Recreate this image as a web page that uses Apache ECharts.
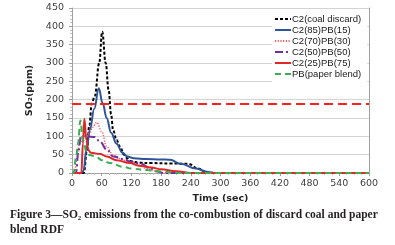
<!DOCTYPE html>
<html><head><meta charset="utf-8">
<script src="https://cdn.jsdelivr.net/npm/echarts@6/dist/echarts.min.js"></script>
<style>html,body{margin:0;padding:0;background:#fff}#c{width:395px;height:245px}</style>
</head><body><div id="c"></div>
<script>
// ---- data ----
const seriesNames = ['C2(coal discard)', 'C2(85)PB(15)', 'C2(70)PB(30)', 'C2(50)PB(50)', 'C2(25)PB(75)', 'PB(paper blend)'];

const tCoal  = [0, 20, 24, 30, 35, 40, 46, 55, 61, 68, 74, 79, 83, 90, 97, 105, 112, 120, 135, 160, 200, 235, 255, 270, 280, 600];
const vCoal  = [0, 0, 0, 60, 130, 190, 210, 300, 385, 300, 226, 160, 117, 90, 72, 50, 40, 32, 28, 27, 26, 25, 12, 3, 0, 0];

const t85    = [0, 18, 23, 30, 36, 45, 54, 62, 70, 79, 90, 102, 112, 125, 150, 180, 198, 220, 250, 275, 290, 600];
const v85    = [0, 0, 5, 72, 117, 175, 231, 190, 150, 110, 80, 55, 45, 40, 38, 37, 36, 25, 12, 3, 0, 0];

const t70    = [0, 5, 10, 15, 25, 35, 42, 50, 60, 70, 83, 104, 117, 135, 150, 170, 190, 600];
const v70    = [0, 0, 40, 80, 100, 107, 125, 138, 113, 72, 49, 35, 30, 22, 12, 5, 0, 0];

const t50    = [0, 8, 13, 18, 30, 46, 57, 70, 83, 104, 120, 140, 155, 170, 185, 600];
const v50    = [0, 0, 60, 101, 100, 98, 85, 64, 45, 38, 30, 25, 15, 5, 0, 0];

const t25    = [0, 19, 22, 25, 29, 33, 38, 57, 70, 90, 117, 135, 160, 180, 210, 240, 600];
const v25    = [0, 0, 80, 148, 90, 63, 55, 52, 45, 35, 27, 20, 15, 10, 5, 0, 0];

const tPB    = [0, 3, 8, 12, 17, 22, 30, 35, 49, 60, 77, 103, 120, 150, 180, 220, 600];
const vPB    = [0, 0, 40, 80, 143, 90, 55, 49, 44, 35, 27, 17, 12, 8, 4, 0, 0];

const limitLine = [188];
const xTicks = [0, 60, 120, 180, 240, 300, 360, 420, 480, 540, 600];
const yTicks = [0, 50, 100, 150, 200, 250, 300, 350, 400, 450];

const captionLines = ['Figure 3\u2014SO\u2082 emissions from the co-combustion of discard coal and paper', 'blend RDF'];

// ---- chart ----
const pairs = (t, v) => t.map((x, i) => [x, v[i]]);
const styles = [
  {color: '#000000', width: 2, type: [3, 2]},
  {color: '#2f5597', width: 2, type: 'solid'},
  {color: '#ff5a5a', width: 1.5, type: [1.2, 1.5]},
  {color: '#7030a0', width: 2, type: [8, 3, 2, 3]},
  {color: '#e3262a', width: 2, type: 'solid'},
  {color: '#3cad55', width: 2, type: [6, 4]}
];
const dataSets = [pairs(tCoal, vCoal), pairs(t85, v85), pairs(t70, v70), pairs(t50, v50), pairs(t25, v25), pairs(tPB, vPB)];
const drawOrder = [5, 4, 3, 2, 1, 0];

const series = drawOrder.map(i => ({
  name: seriesNames[i], type: 'line', data: dataSets[i], symbol: 'none', showSymbol: false,
  smooth: 0.4, smoothMonotone: 'x',
  lineStyle: styles[i], itemStyle: {color: styles[i].color}, z: 3 + i,
  animation: false
}));
series.push({
  type: 'line', data: [], symbol: 'none', silent: true,
  markLine: {symbol: 'none', silent: true, label: {show: false},
    lineStyle: {color: '#ff2020', width: 2, type: [9, 5]},
    data: [{yAxis: limitLine[0]}]},
  animation: false
});

const chart = echarts.init(document.getElementById('c'), null, {renderer: 'canvas'});
chart.setOption({
  animation: false,
  backgroundColor: '#fff',
  title: {
    text: captionLines.join('\n'), left: 5, top: 203,
    textStyle: {fontFamily: 'Liberation Serif', fontSize: 11.5, fontWeight: 'bold', color: '#231f20', lineHeight: 15}
  },
  legend: {
    data: seriesNames, orient: 'vertical', left: 272, top: 11,
    backgroundColor: '#ffffff', padding: [3, 6, 4, 2],
    itemWidth: 16, itemHeight: 8, itemGap: 1,
    itemStyle: {opacity: 0, borderWidth: 0},
    textStyle: {fontFamily: 'Liberation Sans', fontSize: 9.5, color: '#1a1a1a', lineHeight: 10, padding: [0, 0, 0, -4]},
    z: 10
  },
  grid: {left: 72, right: 26, top: 8, bottom: 72, containLabel: false},
  xAxis: {
    type: 'value', min: xTicks[0], max: xTicks[xTicks.length - 1], interval: 60,
    name: 'Time (sec)', nameLocation: 'middle', nameGap: 19,
    nameTextStyle: {fontFamily: 'DejaVu Sans', fontSize: 9.5, fontWeight: 'bold', color: '#262626'},
    axisLine: {show: true, lineStyle: {color: '#a0a0a0'}},
    axisTick: {show: true, length: 3, lineStyle: {color: '#a0a0a0'}},
    minorTick: {show: true, splitNumber: 4, length: 2, lineStyle: {color: '#c0c0c0'}},
    splitLine: {show: false},
    axisLabel: {fontFamily: 'DejaVu Sans', fontSize: 9.5, color: '#404040', margin: 6}
  },
  yAxis: [{
    type: 'value', min: yTicks[0], max: yTicks[yTicks.length - 1], interval: 50,
    name: 'SO\u2082(ppm)', nameLocation: 'middle', nameGap: 36,
    nameTextStyle: {fontFamily: 'DejaVu Sans', fontSize: 9.5, fontWeight: 'bold', color: '#262626'},
    axisLine: {show: true, lineStyle: {color: '#a0a0a0'}},
    axisTick: {show: true, length: 3, lineStyle: {color: '#a0a0a0'}},
    minorTick: {show: true, splitNumber: 5, length: 2, lineStyle: {color: '#c0c0c0'}},
    splitLine: {show: true, lineStyle: {color: '#d4d4d4'}},
    axisLabel: {fontFamily: 'DejaVu Sans', fontSize: 9.5, color: '#404040', margin: 8}
  }, {
    type: 'value', min: yTicks[0], max: yTicks[yTicks.length - 1], interval: 50, position: 'right',
    axisLine: {show: true, lineStyle: {color: '#a0a0a0'}},
    axisTick: {show: false}, axisLabel: {show: false}, splitLine: {show: false}
  }],
  series: series
});
</script>
</body></html>
